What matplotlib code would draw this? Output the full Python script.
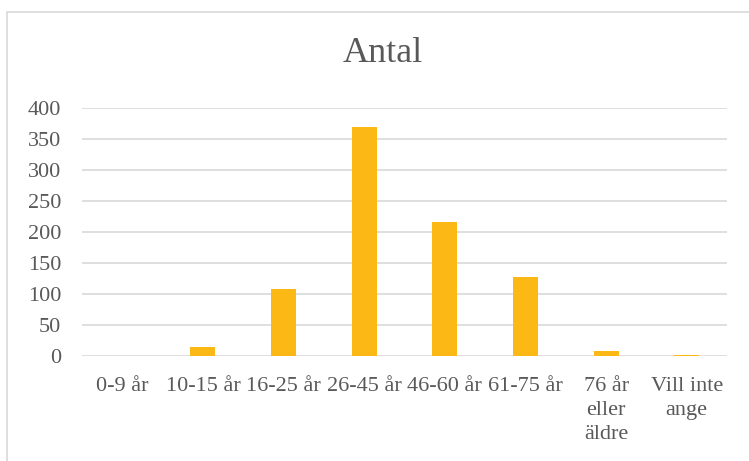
import matplotlib
matplotlib.use("Agg")
import matplotlib.pyplot as plt
from matplotlib.patches import Rectangle

categories = ["0-9 år", "10-15 år", "16-25 år", "26-45 år", "46-60 år", "61-75 år",
              "76 år\neller\näldre", "Vill inte\nange"]
values = [0, 14, 108, 369, 216, 128, 8, 1]
yticks = [0, 50, 100, 150, 200, 250, 300, 350, 400]

plt.rcParams['font.family'] = ['Liberation Serif', 'DejaVu Serif']
fig = plt.figure(figsize=(7.49, 4.61), dpi=100)
W, H = 749, 461
ax = fig.add_axes([82 / W, 1 - 356 / H, (727 - 82) / W, (356 - 108) / H])

x = list(range(len(categories)))
ax.bar(x, values, width=0.31, color="#FCB815", zorder=3)
ax.set_xlim(-0.5, len(categories) - 0.5)
ax.set_ylim(0, 400)
ax.set_yticks(yticks)
ax.set_xticks(x)
ax.set_xticklabels(categories, linespacing=1.36)
ax.tick_params(axis='both', length=0, labelsize=16, colors="#595959")
ax.tick_params(axis='x', pad=15)
ax.tick_params(axis='y', pad=15)
ax.grid(axis='y', color="#D9D9D9", linewidth=1.2, zorder=0)
for s in ax.spines.values():
    s.set_visible(False)

fig.text(383 / W, 1 - 53 / H, "Antal", ha='center', va='center', fontsize=26, color="#595959")
fig.patches.append(Rectangle((7 / W, -0.1), 1.0, 1 - 12 / H + 0.1, transform=fig.transFigure,
                             fill=False, edgecolor="#D9D9D9", linewidth=1.2))
fig.savefig("out.png", dpi=100)
